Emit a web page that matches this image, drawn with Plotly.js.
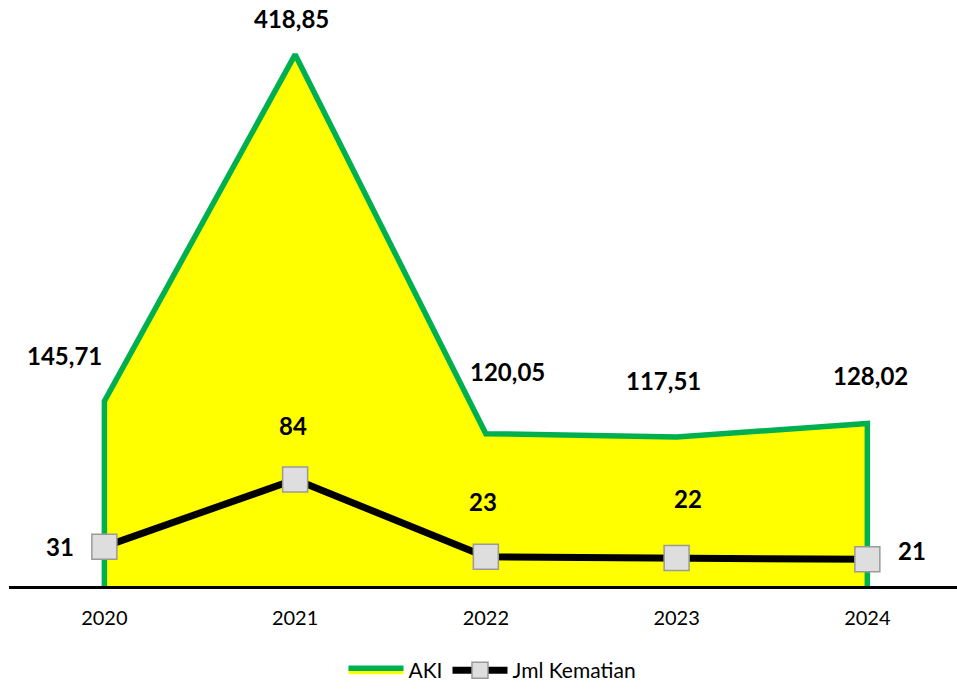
<!DOCTYPE html>
<html>
<head>
<meta charset="utf-8">
<script src="https://cdn.plot.ly/plotly-3.0.1.min.js"></script>
<style>html,body{margin:0;padding:0;background:#fff;}#chart{width:957px;height:691px;}</style>
</head>
<body>
<div id="chart"></div>
<script>
const years = ['2020', '2021', '2022', '2023', '2024'];
const aki = [145.71, 418.85, 120.05, 117.51, 128.02];
const aki_labels = ['145,71', '418,85', '120,05', '117,51', '128,02'];
const kematian = [31, 84, 23, 22, 21];
const kematian_labels = ['31', '84', '23', '22', '21'];

// label offsets (pixels), layout only
const akiShift = [[-40, 46], [-4, 36], [22, 62], [-13, 56], [3, 48]];
const kemShift = [[-44, 0], [-2, 54], [-3, 55], [11, 60], [45, 9]];

const FONT = 'Lato, "Open Sans", sans-serif';

const akiArea = {
  type: 'scatter', mode: 'lines', name: 'AKI',
  x: [years[0]].concat(years, [years[years.length - 1]]),
  y: [0].concat(aki, [0]),
  fill: 'toself', fillcolor: '#ffff00',
  line: {color: '#00b050', width: 5.5, join: 'miter'},
  hoverinfo: 'skip'
};
const kemLine = {
  type: 'scatter', mode: 'lines+markers', name: 'Jml Kematian',
  x: years, y: kematian,
  line: {color: '#000000', width: 7},
  marker: {symbol: 'square', size: 25, color: '#dedede', line: {color: '#9a9a9a', width: 1.5}}
};

const annotations = [];
years.forEach((yr, i) => {
  annotations.push({xref: 'x', yref: 'y', x: i, y: aki[i], text: '<b>' + aki_labels[i] + '</b>', showarrow: false,
    xshift: akiShift[i][0], yshift: akiShift[i][1], font: {family: FONT, size: 24, color: '#000000'}});
  annotations.push({xref: 'x', yref: 'y', x: i, y: kematian[i], text: '<b>' + kematian_labels[i] + '</b>', showarrow: false,
    xshift: kemShift[i][0], yshift: kemShift[i][1], font: {family: FONT, size: 24, color: '#000000'}});
});

const layout = {
  width: 957, height: 691,
  margin: {l: 9, r: 0, t: 10, b: 0},
  paper_bgcolor: '#fff', plot_bgcolor: '#fff',
  showlegend: true,
  legend: {orientation: 'h', x: 0.51, xanchor: 'center', y: 0, yanchor: 'bottom', itemwidth: 55,
    font: {family: FONT, size: 21, color: '#000'}, bgcolor: 'rgba(0,0,0,0)'},
  xaxis: {type: 'category', range: [-0.5, 4.47], showgrid: false, zeroline: false,
    showline: true, linecolor: '#000', linewidth: 3, ticks: '',
    tickfont: {family: FONT, size: 20, color: '#000'}, ticklabelstandoff: 12, fixedrange: true},
  yaxis: {domain: [0.1542, 1], range: [0, 454], showticklabels: false, showgrid: false, zeroline: false, showline: false, ticks: '', fixedrange: true},
  annotations: annotations
};

Plotly.newPlot('chart', [akiArea, kemLine], layout, {displayModeBar: false, staticPlot: true});
</script>
</body>
</html>
